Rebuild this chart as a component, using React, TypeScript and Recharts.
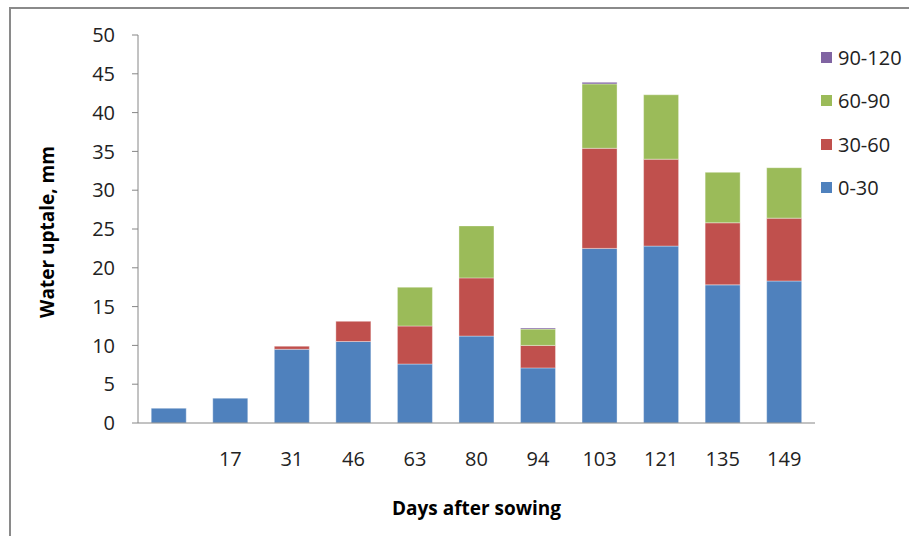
import { BarChart, Bar, XAxis, YAxis, Legend, Label } from 'recharts';

// Days after sowing (first sampling has no day label)
const days = ['', '17', '31', '46', '63', '80', '94', '103', '121', '135', '149'];

// Water uptake by soil layer (cm), mm
const layer0to30 = [1.9, 3.2, 9.5, 10.5, 7.6, 11.2, 7.1, 22.5, 22.8, 17.8, 18.3];
const layer30to60 = [0, 0, 0.4, 2.6, 4.9, 7.5, 2.9, 12.9, 11.2, 8.0, 8.1];
const layer60to90 = [0, 0, 0, 0, 5.0, 6.7, 2.1, 8.3, 8.3, 6.5, 6.5];
const layer90to120 = [0, 0, 0, 0, 0, 0, 0.15, 0.2, 0, 0, 0];

const yTicks = [0, 5, 10, 15, 20, 25, 30, 35, 40, 45, 50];

const layers = [
  { key: 'l0', name: '0-30', color: '#4F81BD' },
  { key: 'l30', name: '30-60', color: '#C0504D' },
  { key: 'l60', name: '60-90', color: '#9BBB59' },
  { key: 'l90', name: '90-120', color: '#8064A2' },
];

const data = days.map((day, i) => ({
  day,
  l0: layer0to30[i],
  l30: layer30to60[i],
  l60: layer60to90[i],
  l90: layer90to120[i],
}));

const FONT = '"Open Sans", sans-serif';
const LEGEND_W = 88;

const LegendBox = () => (
  <div style={{ fontFamily: FONT, fontSize: 20, color: '#222' }}>
    {[...layers].reverse().map((l) => (
      <div key={l.key} style={{ display: 'flex', alignItems: 'center', height: 43.3 }}>
        <span style={{ width: 11, height: 11, background: l.color, marginRight: 6 }} />
        <span>{l.name}</span>
      </div>
    ))}
  </div>
);

const App = () => {
  return (
    <div
      style={{
        position: 'absolute',
        left: 0,
        top: 0,
        width: 909,
        height: 536,
        background: '#fff',
        overflow: 'hidden',
      }}
    >
      <div
        style={{
          position: 'absolute',
          left: 9,
          top: 7,
          width: 920,
          height: 560,
          borderLeft: '2px solid #8a8a8a',
          borderTop: '2px solid #8a8a8a',
        }}
      />
      <BarChart
        width={909}
        height={536}
        data={data}
        margin={{ top: 35, right: 94 - LEGEND_W, bottom: 0, left: 0 }}
        barCategoryGap="21.5%"
        style={{ position: 'absolute', left: 0, top: 0 }}
      >
        <XAxis
          dataKey="day"
          height={113}
          tickLine={false}
          axisLine={{ stroke: '#868686' }}
          tick={{ fill: '#222', fontFamily: FONT, fontSize: 20 }}
          tickMargin={23}
          interval={0}
        >
          <Label
            value="Days after sowing"
            position="insideBottom"
            offset={21}
            style={{ fontFamily: FONT, fontSize: 19, fontWeight: 700, fill: '#000' }}
          />
        </XAxis>
        <YAxis
          width={138}
          domain={[0, 50]}
          ticks={yTicks}
          interval={0}
          axisLine={{ stroke: '#868686' }}
          tickLine={{ stroke: '#868686' }}
          tickSize={6}
          tickMargin={17}
          tick={{ fill: '#222', fontFamily: FONT, fontSize: 20 }}
        >
          <Label
            content={({ viewBox }: any) => {
              const cy = viewBox.y + viewBox.height / 2 + 3;
              return (
                <text
                  x={47}
                  y={cy}
                  transform={`rotate(-90, 47, ${cy})`}
                  textAnchor="middle"
                  dominantBaseline="central"
                  style={{ fontFamily: FONT, fontSize: 19, fontWeight: 700, fill: '#000' }}
                >
                  Water uptale, mm
                </text>
              );
            }}
          />
        </YAxis>
        <Legend
          layout="vertical"
          verticalAlign="top"
          align="right"
          content={<LegendBox />}
          wrapperStyle={{ left: 821, top: 36, width: LEGEND_W }}
        />
        {layers.map((l) => (
          <Bar
            key={l.key}
            dataKey={l.key}
            name={l.name}
            stackId="uptake"
            fill={l.color}
            stroke="rgba(255,255,255,0.6)"
            strokeWidth={0.6}
            isAnimationActive={false}
          />
        ))}
      </BarChart>
    </div>
  );
};

export default App;
